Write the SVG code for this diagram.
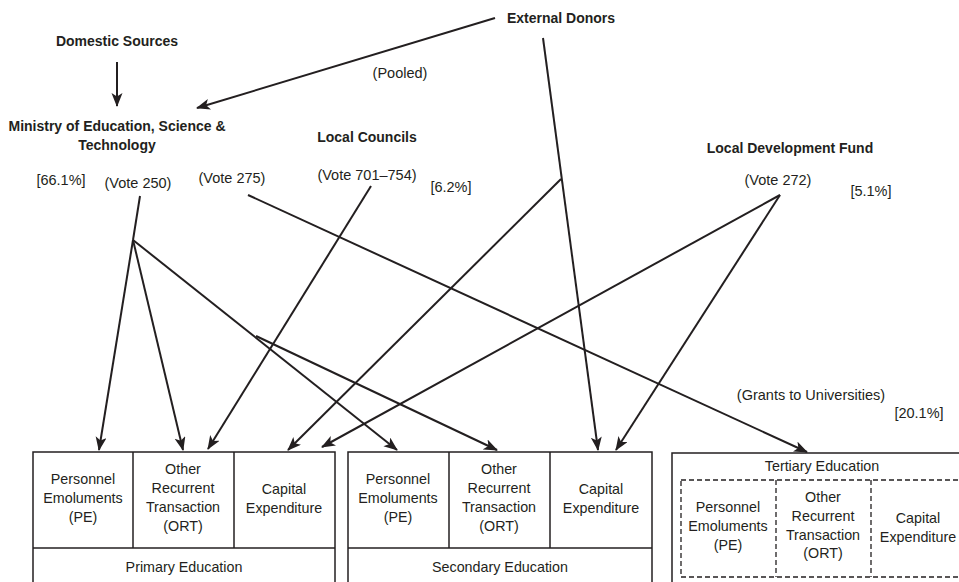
<svg xmlns="http://www.w3.org/2000/svg" width="959" height="582" viewBox="0 0 959 582">
<style>
text{font-family:"Liberation Sans",Arial,sans-serif;fill:#231f20;text-anchor:middle}
.b{font-weight:bold;font-size:14px}
.r{font-size:14.5px}
.c{font-size:14.3px}
.conn line{stroke:#231f20;stroke-width:2;fill:none}
.box{fill:#fff;stroke:#231f20;stroke-width:1.5}
.dash{fill:none;stroke:#231f20;stroke-width:1.3;stroke-dasharray:5 3}
</style>
<defs>
<marker id="ah" markerUnits="userSpaceOnUse" markerWidth="15" markerHeight="12" refX="13" refY="5.5" orient="auto">
<path d="M0,0 L14,5.5 L0,11 L3.5,5.5 z" fill="#231f20"/>
</marker>
</defs>

<g id="domestic"><text class="b" x="117" y="46">Domestic Sources</text></g>
<g id="external"><text class="b" x="561" y="23">External Donors</text></g>
<g id="pooled"><text class="r" x="400" y="78">(Pooled)</text></g>
<g id="ministry">
<text class="b" x="117" y="131">Ministry of Education, Science &amp;</text>
<text class="b" x="117" y="150">Technology</text>
<text class="r" x="61" y="185">[66.1%]</text>
<text class="r" x="138" y="188">(Vote 250)</text>
<text class="r" x="232" y="183">(Vote 275)</text>
</g>
<g id="councils">
<text class="b" x="367" y="142">Local Councils</text>
<text class="r" x="367" y="180">(Vote 701–754)</text>
<text class="r" x="451" y="192">[6.2%]</text>
</g>
<g id="ldf">
<text class="b" x="790" y="153">Local Development Fund</text>
<text class="r" x="778" y="185">(Vote 272)</text>
<text class="r" x="871" y="196">[5.1%]</text>
</g>
<g id="grants">
<text class="r" x="811" y="400">(Grants  to Universities)</text>
<text class="r" x="919" y="418">[20.1%]</text>
</g>

<g class="conn">
<line x1="117" y1="62" x2="117" y2="106" marker-end="url(#ah)"/>
<line x1="495" y1="18" x2="197" y2="108" marker-end="url(#ah)"/>
<line x1="543" y1="38" x2="598" y2="450" marker-end="url(#ah)"/>
<line x1="561" y1="179" x2="288" y2="450" marker-end="url(#ah)"/>
<line x1="140" y1="196" x2="133" y2="240"/>
<line x1="133" y1="240" x2="99" y2="450" marker-end="url(#ah)"/>
<line x1="133" y1="240" x2="183" y2="450" marker-end="url(#ah)"/>
<line x1="133" y1="240" x2="397" y2="450" marker-end="url(#ah)"/>
<line x1="256" y1="336" x2="497" y2="450" marker-end="url(#ah)"/>
<line x1="248" y1="195" x2="807" y2="452" marker-end="url(#ah)"/>
<line x1="371" y1="186" x2="208" y2="449" marker-end="url(#ah)"/>
<line x1="780" y1="195" x2="322" y2="447" marker-end="url(#ah)"/>
<line x1="780" y1="195" x2="616" y2="450" marker-end="url(#ah)"/>
</g>

<g id="primary">
<rect class="box" x="33" y="452" width="302" height="140"/>
<line class="box" x1="33" y1="548" x2="335" y2="548"/>
<line class="box" x1="133" y1="452" x2="133" y2="548"/>
<line class="box" x1="234" y1="452" x2="234" y2="548"/>
<text class="c" x="83" y="484">Personnel</text>
<text class="c" x="83" y="503">Emoluments</text>
<text class="c" x="83" y="522">(PE)</text>
<text class="c" x="183" y="474">Other</text>
<text class="c" x="183" y="493">Recurrent</text>
<text class="c" x="183" y="512">Transaction</text>
<text class="c" x="183" y="531">(ORT)</text>
<text class="c" x="284" y="494">Capital</text>
<text class="c" x="284" y="513">Expenditure</text>
<text class="c" x="184" y="572">Primary Education</text>
</g>

<g id="secondary">
<rect class="box" x="348" y="452" width="304" height="140"/>
<line class="box" x1="348" y1="548" x2="652" y2="548"/>
<line class="box" x1="449" y1="452" x2="449" y2="548"/>
<line class="box" x1="550" y1="452" x2="550" y2="548"/>
<text class="c" x="398" y="484">Personnel</text>
<text class="c" x="398" y="503">Emoluments</text>
<text class="c" x="398" y="522">(PE)</text>
<text class="c" x="499" y="474">Other</text>
<text class="c" x="499" y="493">Recurrent</text>
<text class="c" x="499" y="512">Transaction</text>
<text class="c" x="499" y="531">(ORT)</text>
<text class="c" x="601" y="494">Capital</text>
<text class="c" x="601" y="513">Expenditure</text>
<text class="c" x="500" y="572">Secondary Education</text>
</g>

<g id="tertiary">
<rect class="box" x="672" y="453" width="300" height="140"/>
<text class="c" x="822" y="471">Tertiary Education</text>
<rect class="dash" x="681" y="480" width="290" height="97"/>
<line class="dash" x1="776" y1="480" x2="776" y2="577"/>
<line class="dash" x1="871" y1="480" x2="871" y2="577"/>
<text class="c" x="728" y="512">Personnel</text>
<text class="c" x="728" y="531">Emoluments</text>
<text class="c" x="728" y="550">(PE)</text>
<text class="c" x="823" y="502">Other</text>
<text class="c" x="823" y="521">Recurrent</text>
<text class="c" x="823" y="540">Transaction</text>
<text class="c" x="823" y="558">(ORT)</text>
<text class="c" x="918" y="523">Capital</text>
<text class="c" x="918" y="542">Expenditure</text>
</g>
</svg>
